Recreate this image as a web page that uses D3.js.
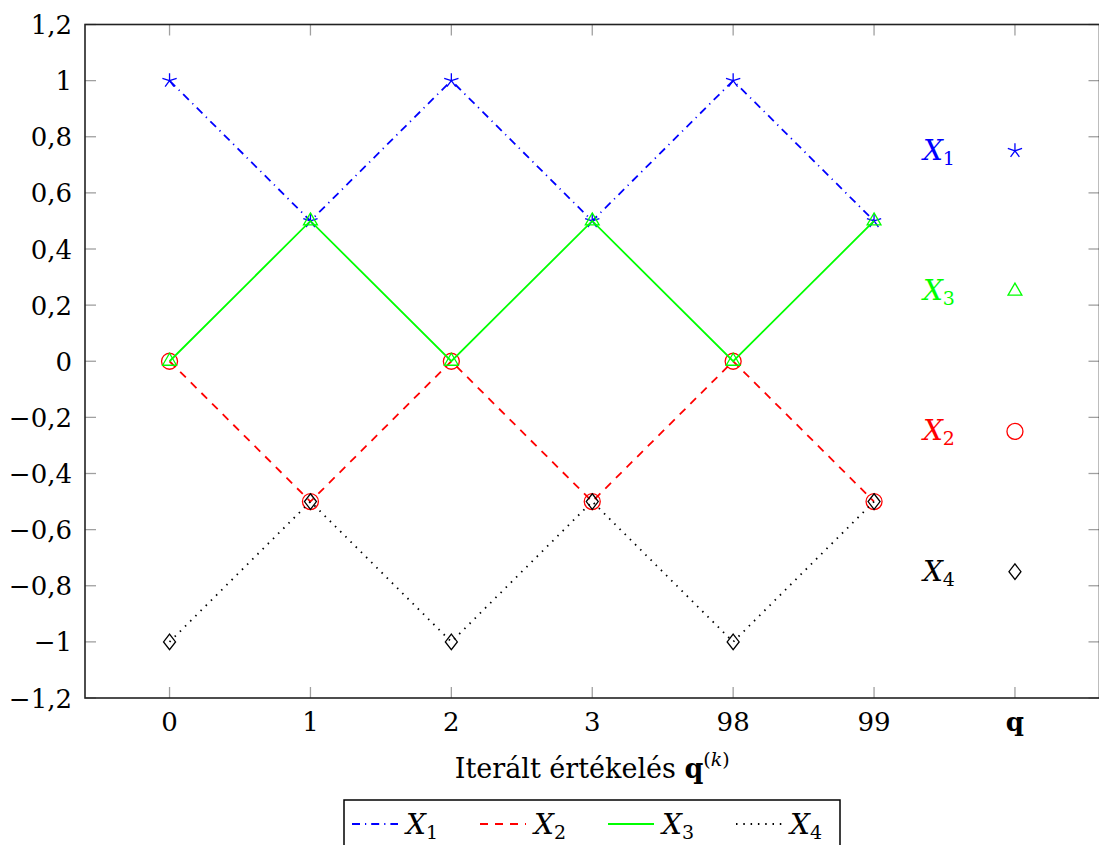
<!DOCTYPE html>
<html>
<head>
<meta charset="utf-8">
<script src="https://cdn.jsdelivr.net/npm/d3@7"></script>
<style>
  html, body { margin: 0; padding: 0; background: #fff; }
  svg { display: block; }
</style>
</head>
<body>
<svg id="chart" width="1099" height="845" font-family="'DejaVu Serif', 'Liberation Serif', serif"></svg>
<script>
// Iteration labels along the x axis (last column holds the limit vector q)
const categories = ["0", "1", "2", "3", "98", "99"];
const limitLabel = "q";

// Component values of the iterates q^(k)
const x1Values = [1, 0.5, 1, 0.5, 1, 0.5];
const x2Values = [0, -0.5, 0, -0.5, 0, -0.5];
const x3Values = [0, 0.5, 0, 0.5, 0, 0.5];
const x4Values = [-1, -0.5, -1, -0.5, -1, -0.5];

// Limit values shown in the q column
const limitNames = ["X1", "X3", "X2", "X4"];
const limitValues = [0.75, 0.25, -0.25, -0.75];

// Y axis ticks
const yTicks = [-1.2, -1, -0.8, -0.6, -0.4, -0.2, 0, 0.2, 0.4, 0.6, 0.8, 1, 1.2];

const series = [
  { name: "X1", sub: "1", values: x1Values, color: "#0000ff", dash: "8,5,1.2,5", mark: "star" },
  { name: "X2", sub: "2", values: x2Values, color: "#ff0000", dash: "8,7", mark: "circle" },
  { name: "X3", sub: "3", values: x3Values, color: "#00ff00", dash: null, mark: "triangle" },
  { name: "X4", sub: "4", values: x4Values, color: "#000000", dash: "1.5,5.8", mark: "diamond" }
];

const svg = d3.select("#chart");
const plotLeft = 85, plotRight = 1099.5, plotTop = 24.5, plotBottom = 698;

const x = d3.scaleLinear().domain([-0.6, 6.6]).range([plotLeft, plotRight]);
const y = d3.scaleLinear().domain([-1.2, 1.2]).range([plotBottom, plotTop]);

const tickColor = "#a0a0a0";
const tickLen = 11;
const fs = 26;

// Marker shapes centred on (0,0)
function markPath(type) {
  const p = d3.path();
  if (type === "star") {
    const r = 7.5;
    for (let i = 0; i < 5; i++) {
      const a = -Math.PI / 2 + i * 2 * Math.PI / 5;
      p.moveTo(0, 0);
      p.lineTo(r * Math.cos(a), r * Math.sin(a));
    }
  } else if (type === "circle") {
    p.arc(0, 0, 8, 0, 2 * Math.PI);
  } else if (type === "triangle") {
    const r = 8;
    p.moveTo(0, -r);
    p.lineTo(r * Math.cos(Math.PI / 6), r * 0.5);
    p.lineTo(-r * Math.cos(Math.PI / 6), r * 0.5);
    p.closePath();
  } else if (type === "diamond") {
    p.moveTo(0, -7.8);
    p.lineTo(6, 0);
    p.lineTo(0, 7.8);
    p.lineTo(-6, 0);
    p.closePath();
  }
  return p.toString();
}

// Ticks (inward on all four sides)
const xTickIdx = d3.range(categories.length + 1);
const gT = svg.append("g").attr("stroke", tickColor).attr("stroke-width", 1.3);
xTickIdx.forEach(i => {
  gT.append("line").attr("x1", x(i)).attr("x2", x(i)).attr("y1", plotBottom).attr("y2", plotBottom - tickLen);
  gT.append("line").attr("x1", x(i)).attr("x2", x(i)).attr("y1", plotTop).attr("y2", plotTop + tickLen);
});
yTicks.forEach(v => {
  gT.append("line").attr("x1", plotLeft).attr("x2", plotLeft + tickLen).attr("y1", y(v)).attr("y2", y(v));
  gT.append("line").attr("x1", plotRight).attr("x2", plotRight - tickLen).attr("y1", y(v)).attr("y2", y(v));
});

// Frame
svg.append("rect")
  .attr("x", plotLeft).attr("y", plotTop)
  .attr("width", plotRight - plotLeft).attr("height", plotBottom - plotTop)
  .attr("fill", "none").attr("stroke", "#222").attr("stroke-width", 1.6);

// Y tick labels
const fmt = v => {
  if (Math.abs(v) < 1e-9) return "0";
  const s = String(Math.round(Math.abs(v) * 10) / 10).replace(".", ",");
  return (v < 0 ? "\u2212" : "") + s;
};
svg.append("g").selectAll("text").data(yTicks).join("text")
  .attr("x", 72).attr("y", v => y(v) + 9.5)
  .attr("text-anchor", "end").attr("font-size", fs)
  .text(fmt);

// X tick labels
const xLabels = categories.concat([limitLabel]);
svg.append("g").selectAll("text").data(xLabels).join("text")
  .attr("x", (d, i) => x(i)).attr("y", 731)
  .attr("text-anchor", "middle").attr("font-size", fs)
  .attr("font-weight", (d, i) => i === categories.length ? "bold" : "normal")
  .text(d => d);

// X axis title
const title = svg.append("text")
  .attr("x", (plotLeft + plotRight) / 2).attr("y", 778)
  .attr("text-anchor", "middle").attr("font-size", 27);
title.append("tspan").text("Iterált értékelés ");
title.append("tspan").attr("font-weight", "bold").text("q");
const sup = title.append("tspan").attr("font-size", 19).attr("dy", -12);
sup.append("tspan").text("(");
sup.append("tspan").attr("font-style", "italic").text("k");
sup.append("tspan").text(")");

// Series lines and markers
const line = d3.line().x((d, i) => x(i)).y(d => y(d));
series.forEach(s => {
  const g = svg.append("g");
  g.append("path")
    .attr("d", line(s.values))
    .attr("fill", "none").attr("stroke", s.color).attr("stroke-width", 1.8)
    .attr("stroke-dasharray", s.dash);
  g.selectAll("path.m").data(s.values).join("path").attr("class", "m")
    .attr("transform", (d, i) => `translate(${x(i)},${y(d)})`)
    .attr("d", markPath(s.mark))
    .attr("fill", "none").attr("stroke", s.color).attr("stroke-width", 1.3);
});

// Limit column: component name and its marker
const byName = Object.fromEntries(series.map(s => [s.name, s]));
const qi = categories.length;
limitNames.forEach((n, k) => {
  const s = byName[n];
  const v = limitValues[k];
  const t = svg.append("text")
    .attr("x", x(qi) - 60).attr("y", y(v) + 9)
    .attr("text-anchor", "end").attr("font-size", 28).attr("fill", s.color);
  t.append("tspan").attr("font-style", "italic").text("X");
  t.append("tspan").attr("font-size", 19).attr("dy", 5).text(s.sub);
  svg.append("path")
    .attr("transform", `translate(${x(qi)},${y(v)})`)
    .attr("d", markPath(s.mark))
    .attr("fill", "none").attr("stroke", s.color).attr("stroke-width", 1.3);
});

// Legend
const lg = svg.append("g");
lg.append("rect").attr("x", 344).attr("y", 800).attr("width", 496).attr("height", 60)
  .attr("fill", "#fff").attr("stroke", "#000").attr("stroke-width", 1.5);
series.forEach((s, i) => {
  const x0 = 352 + i * 128;
  lg.append("line").attr("x1", x0).attr("x2", x0 + 46).attr("y1", 824).attr("y2", 824)
    .attr("stroke", s.color).attr("stroke-width", 1.8).attr("stroke-dasharray", s.dash);
  const t = lg.append("text").attr("x", x0 + 54).attr("y", 834).attr("font-size", 28);
  t.append("tspan").attr("font-style", "italic").text("X");
  t.append("tspan").attr("font-size", 19).attr("dy", 5).text(s.sub);
});
</script>
</body>
</html>
